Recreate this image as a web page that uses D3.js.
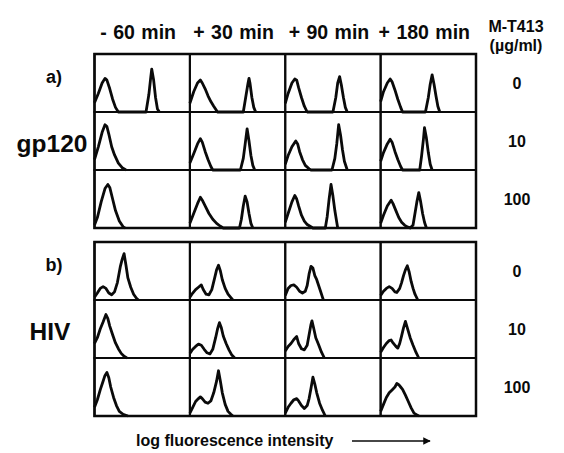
<!DOCTYPE html>
<html>
<head>
<meta charset="utf-8">
<script src="https://cdn.jsdelivr.net/npm/d3@7"></script>
<style>
  body { margin: 0; background: #fff; }
  text { font-family: "Liberation Sans", Arial, Helvetica, sans-serif; font-weight: bold; fill: #0a0a0a; }
</style>
</head>
<body>
<div id="chart"></div>
<script>
// column / row labels
const timeLabels = ["- 60 min", "+ 30 min", "+ 90 min", "+ 180 min"];
const doseLabels = ["0", "10", "100"];
const panelLetters = ["a)", "b)"];
const panelNames = ["gp120", "HIV"];

// histograms: [channel (0-100), relative count (0-100)], indexed [row][column]
const gp120Curves = [
    [
        [[0,16],[4,32],[8,50],[11,58],[13,55],[16,40],[19,22],[22,8],[25,0],[54,0],[57,30],[59,60],[60,74],[62,55],[64,25],[66,5],[68,0]],
        [[0,15],[4,35],[8,50],[11,55],[13,50],[16,40],[19,28],[22,18],[25,10],[29,0],[56,0],[58,20],[61,50],[62,58],[63,50],[65,25],[67,8],[69,0]],
        [[0,15],[3,32],[7,50],[10,57],[12,55],[14,42],[17,25],[20,10],[23,0],[50,0],[53,25],[55,50],[57,61],[59,45],[61,25],[63,8],[65,0]],
        [[0,18],[3,35],[7,50],[10,57],[12,52],[15,38],[18,22],[21,8],[23,0],[47,0],[50,25],[52,48],[54,64],[56,48],[58,28],[60,10],[62,0]]
    ],
    [
        [[0,18],[4,40],[8,65],[11,78],[13,75],[15,62],[18,40],[21,26],[25,12],[29,4],[33,0]],
        [[0,12],[4,28],[8,45],[11,54],[13,48],[16,32],[19,18],[22,6],[24,0],[53,0],[56,20],[58,45],[60,71],[62,50],[64,25],[66,8],[68,0]],
        [[0,10],[3,25],[7,40],[11,50],[13,45],[15,32],[18,18],[21,8],[25,2],[27,0],[49,0],[52,20],[54,45],[56,78],[58,60],[60,35],[62,15],[65,0]],
        [[0,15],[3,30],[7,45],[10,53],[12,48],[15,32],[18,18],[21,6],[23,0],[41,0],[43,25],[45,55],[46,73],[48,55],[50,30],[52,10],[54,0]]
    ],
    [
        [[0,5],[3,18],[7,45],[11,68],[14,75],[16,70],[19,50],[22,30],[26,12],[30,2],[32,0]],
        [[0,8],[4,25],[8,42],[11,53],[13,48],[16,38],[20,25],[24,15],[28,8],[32,3],[35,0],[52,0],[54,15],[56,38],[58,55],[60,45],[62,25],[64,8],[66,0]],
        [[0,10],[3,25],[7,45],[10,56],[12,50],[14,38],[17,22],[20,12],[23,6],[26,3],[29,0],[42,0],[44,20],[46,50],[48,75],[50,55],[52,30],[54,10],[55,0]],
        [[0,8],[3,22],[7,38],[11,48],[13,42],[16,30],[19,18],[22,10],[25,5],[28,2],[31,0],[34,5],[36,25],[38,45],[40,61],[42,45],[44,25],[46,10],[48,0]]
    ]
];

const hivCurves = [
    [
        [[0,5],[3,12],[6,20],[9,23],[12,20],[15,12],[18,9],[21,14],[24,30],[27,57],[29,70],[31,80],[33,60],[35,38],[38,22],[41,10],[44,3],[46,0]],
        [[0,5],[3,12],[6,18],[9,22],[12,26],[14,18],[17,10],[20,9],[23,18],[26,38],[28,52],[30,60],[32,50],[34,35],[37,20],[40,10],[43,4],[45,0]],
        [[0,8],[3,20],[6,25],[9,26],[12,22],[15,15],[18,12],[21,15],[23,25],[25,45],[27,58],[29,55],[31,42],[33,35],[35,25],[37,15],[39,5],[40,0]],
        [[0,8],[3,15],[6,20],[9,23],[12,20],[15,14],[17,13],[20,20],[22,30],[24,42],[26,52],[28,59],[30,48],[32,32],[34,20],[36,10],[39,0]]
    ],
    [
        [[0,25],[3,35],[6,50],[9,62],[12,75],[14,68],[16,55],[19,40],[22,26],[25,16],[28,8],[31,3],[34,0]],
        [[0,8],[3,15],[6,20],[9,24],[12,22],[15,15],[18,9],[21,7],[24,15],[27,35],[29,50],[31,61],[33,52],[35,38],[38,25],[41,14],[44,5],[47,0]],
        [[0,12],[3,20],[6,25],[9,32],[12,37],[14,25],[17,16],[20,14],[23,22],[25,40],[27,58],[28,64],[30,50],[32,35],[35,23],[38,10],[41,0]],
        [[0,10],[3,18],[6,25],[9,30],[11,31],[13,26],[16,20],[18,17],[20,25],[22,38],[24,52],[26,63],[28,52],[31,35],[34,22],[37,10],[40,0]]
    ],
    [
        [[0,15],[3,28],[6,45],[9,60],[11,70],[13,75],[15,66],[17,50],[20,32],[23,18],[26,8],[30,3],[35,0]],
        [[0,5],[3,15],[6,25],[9,30],[11,33],[13,30],[16,24],[19,22],[22,26],[25,40],[28,60],[30,78],[32,60],[34,40],[37,20],[40,8],[43,3],[45,0]],
        [[0,5],[3,15],[6,22],[9,28],[12,30],[14,26],[17,18],[20,13],[23,18],[25,30],[27,48],[29,67],[31,55],[33,40],[36,22],[39,10],[42,0]],
        [[0,8],[3,20],[6,32],[9,40],[12,45],[15,50],[17,56],[19,54],[21,50],[23,46],[26,36],[29,25],[32,14],[35,5],[38,2],[40,0]]
    ]
];

const width = 564,
      height = 453;

const gridLeft = 94.5,
      gridRight = 476,
      panelTops = [54, 242],
      panelHeight = 174;

const svg = d3.select('#chart')
    .append('svg')
    .attr('width', width)
    .attr('height', height);

let col = d3.scaleBand()
    .domain(timeLabels)
    .range([gridLeft, gridRight]);

const cellW = col.bandwidth(),
      cellH = panelHeight / doseLabels.length;

let x = d3.scaleLinear().domain([0, 100]).range([0, cellW]);
let y = d3.scaleLinear().domain([0, 100]).range([cellH, 0]);

let line = d3.line()
    .x(d => x(d[0]))
    .y(d => y(d[1]));

// column headers
svg.selectAll('.time-label')
    .data(timeLabels)
    .enter()
    .append('text')
    .attr('class', 'time-label')
    .attr('x', d => col(d) + cellW / 2 - 4)
    .attr('y', 39)
    .attr('text-anchor', 'middle')
    .attr('font-size', 19.5)
    .attr('word-spacing', 1)
    .text(d => d);

svg.append('text').attr('x', 516).attr('y', 32).attr('text-anchor', 'middle').attr('font-size', 16).text('M-T413');
svg.append('text').attr('x', 516).attr('y', 51).attr('text-anchor', 'middle').attr('font-size', 16).text('(µg/ml)');

[gp120Curves, hivCurves].forEach((curves, p) => {
    let row = d3.scaleBand()
        .domain(doseLabels)
        .range([panelTops[p], panelTops[p] + panelHeight]);

    let panel = svg.append('g').classed('panel', true);

    curves.forEach((rowCurves, r) => {
        rowCurves.forEach((pts, c) => {
            let g = panel.append('g')
                .attr('transform', `translate(${col(timeLabels[c])},${row(doseLabels[r])})`);

            g.append('path')
                .attr('d', line(pts))
                .attr('fill', 'none')
                .attr('stroke', '#0a0a0a')
                .attr('stroke-width', 2.8)
                .attr('stroke-linejoin', 'round');

            g.append('rect')
                .attr('width', cellW)
                .attr('height', cellH)
                .attr('fill', 'none')
                .attr('stroke', '#0a0a0a')
                .attr('stroke-width', 2);
        });
    });

    // outer frame
    panel.append('rect')
        .attr('x', gridLeft)
        .attr('y', panelTops[p])
        .attr('width', gridRight - gridLeft)
        .attr('height', panelHeight)
        .attr('fill', 'none')
        .attr('stroke', '#0a0a0a')
        .attr('stroke-width', 2.5);

    // dose labels on the right
    panel.selectAll('.dose')
        .data(doseLabels)
        .enter()
        .append('text')
        .attr('class', 'dose')
        .attr('x', 517)
        .attr('y', d => row(d) + cellH / 2 + 6)
        .attr('text-anchor', 'middle')
        .attr('font-size', 16)
        .text(d => d);

    svg.append('text')
        .attr('x', 54)
        .attr('y', panelTops[p] + 29)
        .attr('text-anchor', 'middle')
        .attr('font-size', 18)
        .text(panelLetters[p]);

    svg.append('text')
        .attr('x', p === 0 ? 52 : 50)
        .attr('y', panelTops[p] + cellH + 40)
        .attr('text-anchor', 'middle')
        .attr('font-size', 24.5)
        .text(panelNames[p]);
});

// x axis caption with arrow
svg.append('defs').append('marker')
    .attr('id', 'arrow')
    .attr('viewBox', '0 0 10 10')
    .attr('refX', 9).attr('refY', 5)
    .attr('markerWidth', 6).attr('markerHeight', 5)
    .attr('orient', 'auto')
    .append('path')
    .attr('d', 'M0,0L10,5L0,10z')
    .attr('fill', '#0a0a0a');

svg.append('text')
    .attr('x', 136)
    .attr('y', 446)
    .attr('font-size', 16)
    .text('log fluorescence intensity');

svg.append('line')
    .attr('x1', 352).attr('x2', 430)
    .attr('y1', 441).attr('y2', 441)
    .attr('stroke', '#0a0a0a')
    .attr('stroke-width', 1.5)
    .attr('marker-end', 'url(#arrow)');
</script>
</body>
</html>
